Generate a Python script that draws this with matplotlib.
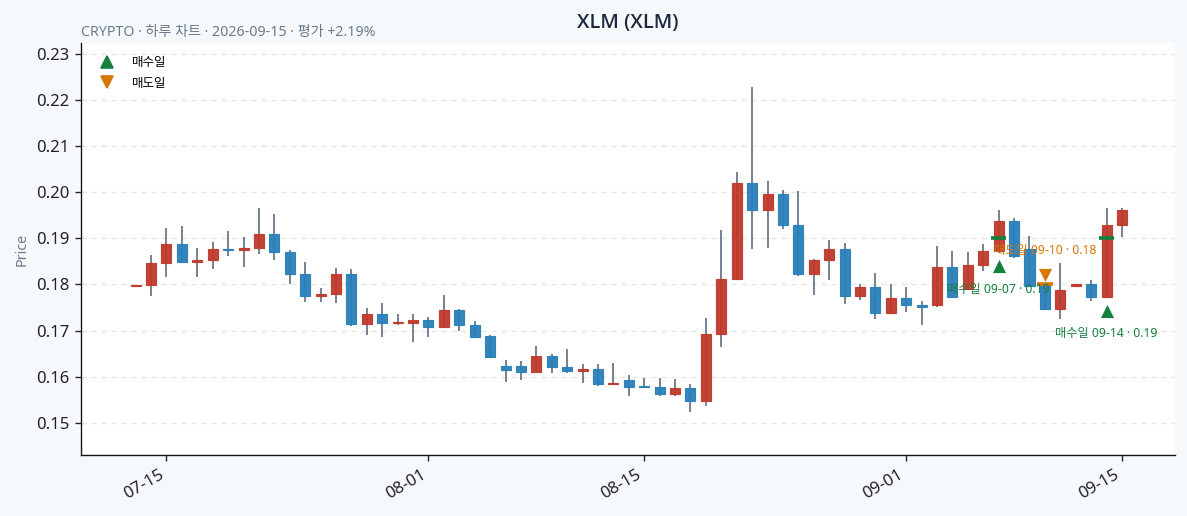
import matplotlib
matplotlib.use("Agg")
import matplotlib.pyplot as plt
import matplotlib.dates as mdates
import numpy as np
import pandas as pd
from matplotlib.lines import Line2D

plt.rcParams['font.family'] = ['Noto Sans', 'Noto Sans CJK KR', 'DejaVu Sans']

dates = pd.date_range("2026-07-13", "2026-09-15", freq="D")
opens = [0.1797, 0.1798, 0.1846, 0.1887, 0.1848, 0.1854, 0.1878, 0.1875, 0.1880, 0.1909,
         0.1870, 0.1822, 0.1776, 0.1780, 0.1822, 0.1715, 0.1735, 0.1717, 0.1717, 0.1722,
         0.1708, 0.1744, 0.1713, 0.1688, 0.1624, 0.1624, 0.1611, 0.1644, 0.1622, 0.1612,
         0.1617, 0.1584, 0.1593, 0.1579, 0.1578, 0.1563, 0.1576, 0.1548, 0.1692, 0.1812,
         0.2021, 0.1962, 0.1997, 0.1930, 0.1823, 0.1854, 0.1878, 0.1775, 0.1795, 0.1738,
         0.1771, 0.1756, 0.1756, 0.1839, 0.1790, 0.1843, 0.1872, 0.1937, 0.1878, 0.1798,
         0.1746, 0.1796, 0.1800, 0.1772, 0.1928]
highs = [0.1799, 0.1865, 0.1923, 0.1926, 0.1880, 0.1893, 0.1917, 0.1902, 0.1965, 0.1954,
         0.1875, 0.1848, 0.1793, 0.1835, 0.1833, 0.1748, 0.1759, 0.1735, 0.1735, 0.1730,
         0.1777, 0.1746, 0.1720, 0.1690, 0.1636, 0.1633, 0.1667, 0.1649, 0.1661, 0.1628,
         0.1628, 0.1630, 0.1604, 0.1598, 0.1598, 0.1594, 0.1585, 0.1728, 0.1919, 0.2043,
         0.2228, 0.2025, 0.2006, 0.2003, 0.1856, 0.1897, 0.1890, 0.1801, 0.1825, 0.1800,
         0.1795, 0.1765, 0.1883, 0.1872, 0.1870, 0.1888, 0.1962, 0.1945, 0.1905, 0.1800,
         0.1846, 0.1801, 0.1809, 0.1965, 0.1965]
lows = [0.1797, 0.1776, 0.1817, 0.1848, 0.1817, 0.1833, 0.1861, 0.1839, 0.1866, 0.1854,
        0.1801, 0.1761, 0.1763, 0.1759, 0.1711, 0.1691, 0.1685, 0.1713, 0.1676, 0.1685,
        0.1707, 0.1698, 0.1683, 0.1641, 0.1589, 0.1593, 0.1610, 0.1609, 0.1607, 0.1587,
        0.1580, 0.1583, 0.1559, 0.1575, 0.1559, 0.1559, 0.1524, 0.1537, 0.1665, 0.1812,
        0.1876, 0.1880, 0.1920, 0.1819, 0.1778, 0.1810, 0.1758, 0.1767, 0.1725, 0.1736,
        0.1741, 0.1712, 0.1751, 0.1772, 0.1788, 0.1829, 0.1868, 0.1858, 0.1796, 0.1744,
        0.1726, 0.1795, 0.1764, 0.1770, 0.1902]
closes = [0.1798, 0.1846, 0.1887, 0.1848, 0.1854, 0.1878, 0.1875, 0.1880, 0.1909, 0.1870,
          0.1822, 0.1776, 0.1780, 0.1822, 0.1715, 0.1735, 0.1717, 0.1719, 0.1722, 0.1708,
          0.1744, 0.1713, 0.1686, 0.1643, 0.1615, 0.1611, 0.1644, 0.1621, 0.1612, 0.1617,
          0.1584, 0.1586, 0.1578, 0.1577, 0.1563, 0.1576, 0.1548, 0.1692, 0.1812, 0.2021,
          0.1962, 0.1997, 0.1930, 0.1823, 0.1854, 0.1878, 0.1775, 0.1795, 0.1738, 0.1771,
          0.1756, 0.1751, 0.1839, 0.1773, 0.1843, 0.1872, 0.1937, 0.1862, 0.1796, 0.1746,
          0.1788, 0.1800, 0.1772, 0.1928, 0.1962]

trade_dates = ["2026-09-07", "2026-09-10", "2026-09-14"]
trade_types = ["buy", "sell", "buy"]
trade_prices = [0.19, 0.18, 0.19]

title = "XLM (XLM)"
subtitle = "CRYPTO · 하루 차트 · 2026-09-15 · 평가 +2.19%"

UP = "#c0392b"
DOWN = "#2980b9"
WICK = "#6b7b8c"
BUY = "#15803d"
SELL = "#d97706"

DPI = 120
fig = plt.figure(figsize=(1187 / DPI, 516 / DPI), dpi=DPI, facecolor="#f5f9fc")
ax = fig.add_axes([0.0682, 0.1182, 0.9218, 0.7985])
ax.set_facecolor("white")

x = mdates.date2num(dates)
o = np.array(opens); h = np.array(highs); l = np.array(lows); c = np.array(closes)
up = c >= o
colors = np.where(up, UP, DOWN)

ax.vlines(x, l, h, color=WICK, linewidth=1.1, zorder=2)
bottoms = np.minimum(o, c)
heights = np.maximum(np.abs(c - o), 0.00012)
ax.bar(x, heights, bottom=bottoms, width=0.65, color=colors, edgecolor=colors,
       linewidth=0.7, zorder=3, alpha=0.95)

xi = {d: i for i, d in enumerate(dates.strftime("%Y-%m-%d"))}
for d, t, p in zip(trade_dates, trade_types, trade_prices):
    i = xi[d]
    xd = x[i]
    col = BUY if t == "buy" else SELL
    ax.hlines(p, xd - 0.5, xd + 0.5, color=col, linewidth=2.2, zorder=4)
    if t == "buy":
        my = lows[i] * 0.985
        ax.scatter([xd], [my], marker="^", s=62, color=col, zorder=5, linewidths=0)
        ax.annotate(f"매수일 {d[5:]} · {p:.2f}", (xd, my), xytext=(0, -13.8),
                    textcoords="offset points", ha="center", va="center",
                    fontsize=7.3, color=col, zorder=6)
    else:
        my = highs[i] * 1.012
        ax.scatter([xd], [my], marker="v", s=62, color=col, zorder=5, linewidths=0)
        ax.annotate(f"매도일 {d[5:]} · {p:.2f}", (xd, my), xytext=(0, 14.2),
                    textcoords="offset points", ha="center", va="center",
                    fontsize=7.3, color=col, zorder=6)

ax.set_xlim(mdates.date2num(pd.Timestamp("2026-07-09")) + 0.45,
            mdates.date2num(pd.Timestamp("2026-09-18")) + 0.45)
ax.set_ylim(0.1430, 0.2324)
ax.set_yticks(np.arange(0.15, 0.2301, 0.01))
ax.yaxis.set_major_formatter(matplotlib.ticker.FormatStrFormatter("%.2f"))
ax.xaxis.set_major_locator(mdates.DayLocator(bymonthday=[1, 15]))
ax.xaxis.set_major_formatter(mdates.DateFormatter("%m-%d"))
ax.tick_params(axis="both", labelsize=10, colors="#222222")
plt.setp(ax.get_xticklabels(), rotation=30, ha="right")
ax.grid(axis="y", linestyle=(0, (4, 3.5)), color="#e6e6e6", linewidth=0.8)
ax.set_axisbelow(True)
for s in ["top", "right"]:
    ax.spines[s].set_visible(False)
ax.spines["left"].set_color("#111111")
ax.spines["bottom"].set_color("#111111")
ax.set_ylabel("Price", fontsize=8.5, color="#6b7b8c")

ax.set_title(title, fontsize=12, color="#1e293b", fontweight="semibold", pad=8.8,
             family=['Open Sans', 'Noto Sans', 'DejaVu Sans'])
ax.annotate(subtitle, (0, 1), xycoords="axes fraction", xytext=(0, 4.2),
            textcoords="offset points", fontsize=8.5, color="#6b7b8c",
            ha="left", va="baseline")

handles = [Line2D([], [], marker="^", color=BUY, linestyle="None", markersize=7.5, label="매수일"),
           Line2D([], [], marker="v", color=SELL, linestyle="None", markersize=7.5, label="매도일")]
ax.legend(handles=handles, loc="upper left", frameon=False, fontsize=7.5,
          handletextpad=1.0, labelspacing=0.6, borderaxespad=0.65)

fig.savefig("out.png", dpi=DPI, facecolor=fig.get_facecolor())
